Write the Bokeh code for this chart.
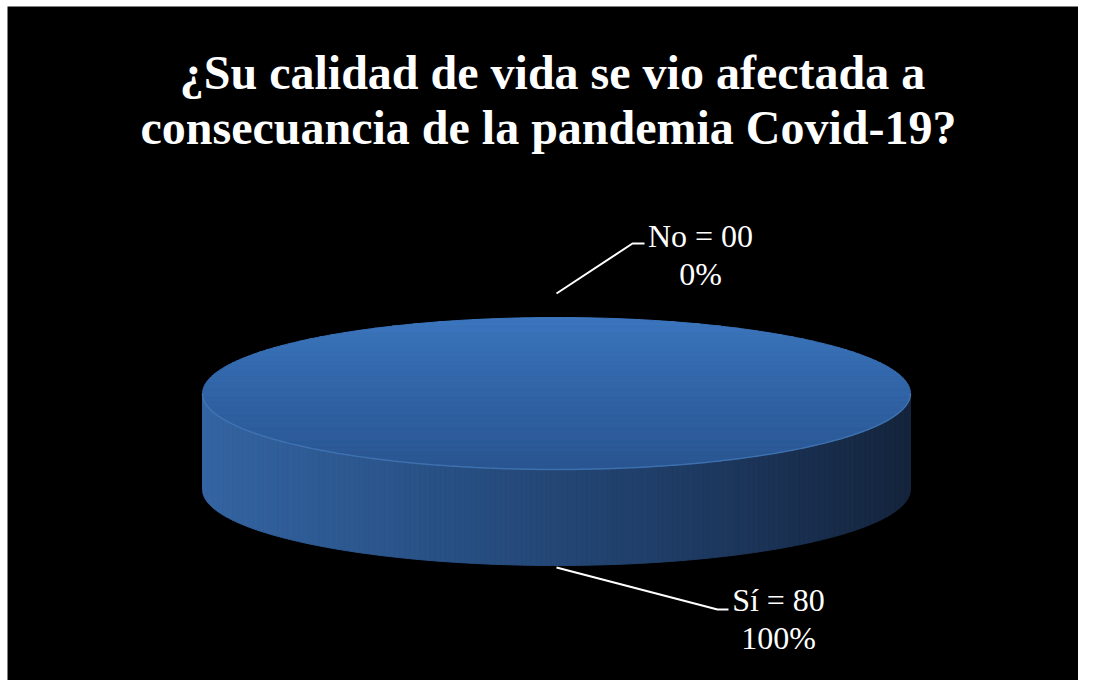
import numpy as np
from bokeh.plotting import figure
from bokeh.models import Range1d
from bokeh.embed import file_html
from bokeh.resources import INLINE
from bokeh.core.properties import value

# ---------------- data ----------------
categories = ["Sí", "No"]
counts = [80, 0]
percent_labels = ["100%", "0%"]
title_lines = ["¿Su calidad de vida se vio afectada a",
               "consecuancia de la pandemia Covid-19?"]

# ---------------- layout ----------------
W, H = 1078, 680
LB, TB = 7, 6              # white frame like the reference
CX, CY = 556, 393          # centre of top ellipse (screen-like coords, y down)
A, B = 354, 76             # semi axes
DEPTH = 96                 # thickness of the pie
label_center = [(778, 618), (700, 254)]   # centre of two-line label block
label_elbow = [(717, 609), (632, 243)]
label_end = [(728, 609), (644, 243)]
leader_gap = [2, 24]
FONT = "serif"

p = figure(width=W, height=H, output_backend="svg", toolbar_location=None,
           x_range=Range1d(LB, W), y_range=Range1d(H, TB),
           x_axis_type=None, y_axis_type=None,
           min_border_left=LB, min_border_top=TB, min_border_right=0, min_border_bottom=0)
p.background_fill_color = "black"
p.border_fill_color = "white"
p.outline_line_color = None
p.grid.visible = False


def mix(c1, c2, t):
    return "#%02x%02x%02x" % tuple(int(round(a + (b - a) * t)) for a, b in zip(c1, c2))


def grad(stops, t):
    for (t0, c0), (t1, c1) in zip(stops[:-1], stops[1:]):
        if t <= t1:
            return mix(c0, c1, (t - t0) / (t1 - t0) if t1 > t0 else 0)
    return mix(stops[-1][1], stops[-1][1], 0)


def clip(poly, axis, lo, hi):
    def half(pts, keep, inter):
        out = []
        n = len(pts)
        for i in range(n):
            cur, prv = pts[i], pts[i - 1]
            if keep(cur):
                if not keep(prv):
                    out.append(inter(prv, cur))
                out.append(cur)
            elif keep(prv):
                out.append(inter(prv, cur))
        return out

    def inter_at(v):
        def f(p1, p2):
            t = (v - p1[axis]) / (p2[axis] - p1[axis])
            return (p1[0] + (p2[0] - p1[0]) * t, p1[1] + (p2[1] - p1[1]) * t)
        return f
    pts = half(poly, lambda q: q[axis] >= lo, inter_at(lo))
    if not pts:
        return []
    pts = half(pts, lambda q: q[axis] <= hi, inter_at(hi))
    return pts


def ell(th, dy=0.0):
    return (CX + A * np.cos(th), CY - B * np.sin(th) + dy)


total = sum(counts)
top_stops = [(0.0, (60, 118, 190)), (0.5, (49, 100, 166)), (1.0, (42, 86, 146))]
side_stops = [(0.0, (52, 100, 162)), (0.35, (40, 80, 132)), (0.7, (30, 58, 98)), (1.0, (20, 36, 60))]

start = np.pi / 2
cum = 0.0
mids = []
for cat, cnt in zip(categories, counts):
    frac = cnt / total
    th0 = start - 2 * np.pi * cum
    th1 = start - 2 * np.pi * (cum + frac)
    mids.append((th0 + th1) / 2)
    cum += frac
    if frac <= 0:
        continue
    ths = np.linspace(th0, th1, 721)
    # ---- side (visible front part) ----
    front = np.sin(ths) <= 0
    runs = []
    cur = []
    for th, f in zip(ths, front):
        if f:
            cur.append(th)
        elif cur:
            runs.append(cur); cur = []
    if cur:
        runs.append(cur)
    side_xs, side_ys, side_c = [], [], []
    for run in runs:
        poly = [ell(t) for t in run] + [ell(t, DEPTH) for t in run[::-1]]
        nstrip = 140
        edges = np.linspace(CX - A, CX + A, nstrip + 1)
        for i in range(nstrip):
            part = clip(poly, 0, edges[i], edges[i + 1])
            if len(part) < 3:
                continue
            tt = (i + 0.5) / nstrip
            side_xs.append([q[0] for q in part]); side_ys.append([q[1] for q in part])
            side_c.append(grad(side_stops, tt))
    p.patches(side_xs, side_ys, fill_color=side_c, line_color=side_c, line_width=1)
    # ---- top ----
    if frac >= 0.9999:
        poly = [ell(t) for t in ths[:-1]]
    else:
        poly = [(CX, CY)] + [ell(t) for t in ths]
    nband = 70
    edges = np.linspace(CY - B, CY + B, nband + 1)
    top_xs, top_ys, top_c = [], [], []
    for i in range(nband):
        part = clip(poly, 1, edges[i], edges[i + 1])
        if len(part) < 3:
            continue
        tt = (i + 0.5) / nband
        top_xs.append([q[0] for q in part]); top_ys.append([q[1] for q in part])
        top_c.append(grad(top_stops, tt))
    p.patches(top_xs, top_ys, fill_color=top_c, line_color=top_c, line_width=1)
    # rim highlight
    rim = [t for t in ths if np.sin(t) <= 0]
    if rim:
        p.line([ell(t)[0] for t in rim], [ell(t)[1] for t in rim],
               line_color="#4f86c8", line_alpha=0.55, line_width=1.5)

# ---------------- labels ----------------
for i, (cat, cnt, pct) in enumerate(zip(categories, counts, percent_labels)):
    m = mids[i]
    sx, sy = ell(m)
    if np.sin(m) < 0:
        sy = sy + DEPTH + leader_gap[i]
    else:
        sy = sy - leader_gap[i]
    ex, ey = label_elbow[i]
    fx, fy = label_end[i]
    p.line([sx, ex, fx], [sy, ey, fy], line_color="white", line_width=2)
    lx, ly = label_center[i]
    p.text(x=[lx, lx], y=[ly - 19, ly + 19], text=[f"{cat} = {cnt:02d}", pct],
           text_color="white", text_font=value(FONT), text_font_size="32px",
           text_align="center", text_baseline="middle")

# ---------------- title ----------------
p.text(x=[552, 548], y=[72, 127], text=title_lines, text_color="white",
       text_font=value(FONT), text_font_style="bold", text_font_size="48px",
       text_align="center", text_baseline="alphabetic")

open("out.html", "w").write(file_html(p, INLINE))
